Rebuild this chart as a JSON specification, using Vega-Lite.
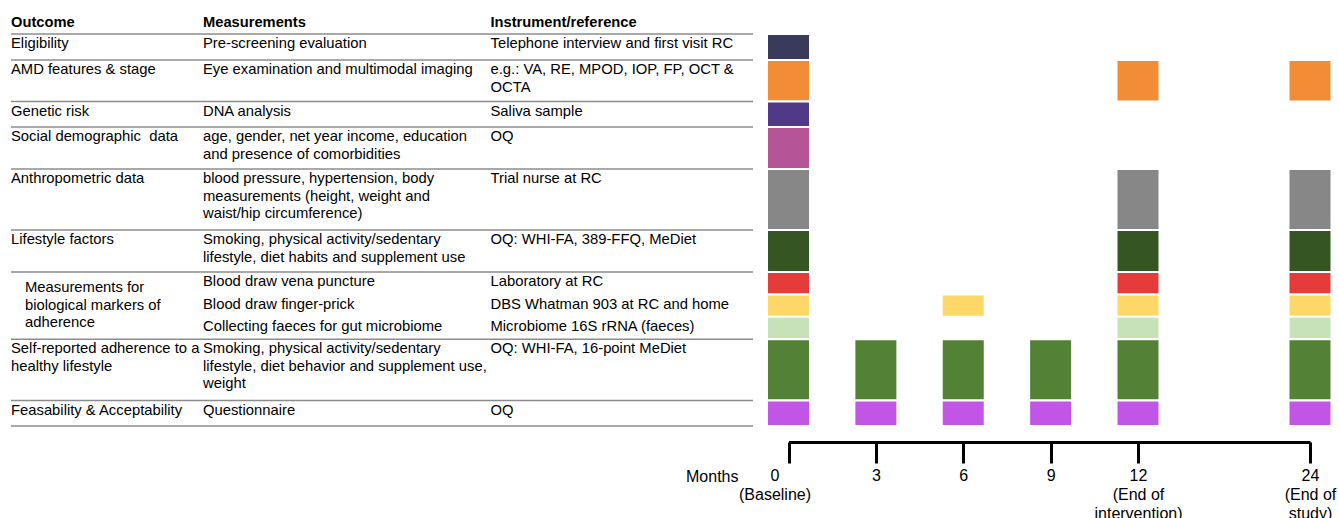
{
  "$schema": "https://vega.github.io/schema/vega-lite/v6.json",
  "width": 1339,
  "height": 518,
  "autosize": {"type": "none"},
  "padding": 0,
  "background": "white",
  "config": {"view": {"stroke": null}, "font": "Liberation Sans"},
  "datasets": {
    "cells": [
      {"row": -1, "col": 0, "text": "Outcome"},
      {"row": -1, "col": 1, "text": "Measurements"},
      {"row": -1, "col": 2, "text": "Instrument/reference"},
      {"row": 0, "col": 0, "text": "Eligibility"},
      {"row": 0, "col": 1, "text": "Pre-screening evaluation"},
      {"row": 0, "col": 2, "text": "Telephone interview and first visit RC"},
      {"row": 1, "col": 0, "text": "AMD features & stage"},
      {"row": 1, "col": 1, "text": "Eye examination and multimodal imaging"},
      {"row": 1, "col": 2, "text": "e.g.: VA, RE, MPOD, IOP, FP, OCT &\nOCTA"},
      {"row": 2, "col": 0, "text": "Genetic risk"},
      {"row": 2, "col": 1, "text": "DNA analysis"},
      {"row": 2, "col": 2, "text": "Saliva sample"},
      {"row": 3, "col": 0, "text": "Social demographic\u00a0 data"},
      {"row": 3, "col": 1, "text": "age, gender, net year income, education\nand presence of comorbidities"},
      {"row": 3, "col": 2, "text": "OQ"},
      {"row": 4, "col": 0, "text": "Anthropometric data"},
      {"row": 4, "col": 1, "text": "blood pressure, hypertension, body\nmeasurements (height, weight and\nwaist/hip circumference)"},
      {"row": 4, "col": 2, "text": "Trial nurse at RC"},
      {"row": 5, "col": 0, "text": "Lifestyle factors"},
      {"row": 5, "col": 1, "text": "Smoking, physical activity/sedentary\nlifestyle, diet habits and supplement use"},
      {"row": 5, "col": 2, "text": "OQ: WHI-FA, 389-FFQ, MeDiet"},
      {"row": 6, "col": 0, "span": 3, "text": "Measurements for\nbiological markers of\nadherence"},
      {"row": 6, "col": 1, "text": "Blood draw vena puncture"},
      {"row": 6, "col": 2, "text": "Laboratory at RC"},
      {"row": 7, "col": 1, "text": "Blood draw finger-prick"},
      {"row": 7, "col": 2, "text": "DBS Whatman 903 at RC and home"},
      {"row": 8, "col": 1, "text": "Collecting faeces for gut microbiome"},
      {"row": 8, "col": 2, "text": "Microbiome 16S rRNA (faeces)"},
      {"row": 9, "col": 0, "text": "Self-reported adherence to a\nhealthy lifestyle"},
      {"row": 9, "col": 1, "text": "Smoking, physical activity/sedentary\nlifestyle, diet behavior and supplement use,\nweight"},
      {"row": 9, "col": 2, "text": "OQ: WHI-FA, 16-point MeDiet"},
      {"row": 10, "col": 0, "text": "Feasability & Acceptability"},
      {"row": 10, "col": 1, "text": "Questionnaire"},
      {"row": 10, "col": 2, "text": "OQ"}
    ],
    "rules": [
      {"row": 0}, {"row": 1}, {"row": 2}, {"row": 3}, {"row": 4},
      {"row": 5}, {"row": 6}, {"row": 9}, {"row": 10}, {"row": 11}
    ],
    "items": [
      {"item": "Eligibility", "top": 0, "bottom": 1},
      {"item": "AMD features & stage", "top": 1, "bottom": 2},
      {"item": "Genetic risk", "top": 2, "bottom": 3},
      {"item": "Social demographic data", "top": 3, "bottom": 4},
      {"item": "Anthropometric data", "top": 4, "bottom": 5},
      {"item": "Lifestyle factors", "top": 5, "bottom": 6},
      {"item": "Blood draw vena puncture", "top": 6, "bottom": 7},
      {"item": "Blood draw finger-prick", "top": 7, "bottom": 8},
      {"item": "Collecting faeces for gut microbiome", "top": 8, "bottom": 9},
      {"item": "Self-reported adherence", "top": 9, "bottom": 10},
      {"item": "Feasability & Acceptability", "top": 10, "bottom": 11}
    ],
    "schedule": [
      {"item": "Eligibility", "month": 0},
      {"item": "AMD features & stage", "month": 0},
      {"item": "AMD features & stage", "month": 12},
      {"item": "AMD features & stage", "month": 24},
      {"item": "Genetic risk", "month": 0},
      {"item": "Social demographic data", "month": 0},
      {"item": "Anthropometric data", "month": 0},
      {"item": "Anthropometric data", "month": 12},
      {"item": "Anthropometric data", "month": 24},
      {"item": "Lifestyle factors", "month": 0},
      {"item": "Lifestyle factors", "month": 12},
      {"item": "Lifestyle factors", "month": 24},
      {"item": "Blood draw vena puncture", "month": 0},
      {"item": "Blood draw vena puncture", "month": 12},
      {"item": "Blood draw vena puncture", "month": 24},
      {"item": "Blood draw finger-prick", "month": 0},
      {"item": "Blood draw finger-prick", "month": 6},
      {"item": "Blood draw finger-prick", "month": 12},
      {"item": "Blood draw finger-prick", "month": 24},
      {"item": "Collecting faeces for gut microbiome", "month": 0},
      {"item": "Collecting faeces for gut microbiome", "month": 12},
      {"item": "Collecting faeces for gut microbiome", "month": 24},
      {"item": "Self-reported adherence", "month": 0},
      {"item": "Self-reported adherence", "month": 3},
      {"item": "Self-reported adherence", "month": 6},
      {"item": "Self-reported adherence", "month": 9},
      {"item": "Self-reported adherence", "month": 12},
      {"item": "Self-reported adherence", "month": 24},
      {"item": "Feasability & Acceptability", "month": 0},
      {"item": "Feasability & Acceptability", "month": 3},
      {"item": "Feasability & Acceptability", "month": 6},
      {"item": "Feasability & Acceptability", "month": 9},
      {"item": "Feasability & Acceptability", "month": 12},
      {"item": "Feasability & Acceptability", "month": 24}
    ]
  },
  "layer": [
    {
      "data": {"name": "rules"},
      "mark": {"type": "rule", "stroke": "#8c8c8c", "strokeWidth": 1.5},
      "encoding": {
        "x": {"datum": 0, "type": "quantitative", "scale": {"type": "linear", "domain": [0, 1, 2, 3], "range": [11, 203, 490.5, 753], "nice": false, "zero": false, "padding": 0}, "axis": null},
        "x2": {"datum": 3},
        "y": {"field": "row", "type": "quantitative", "scale": {"type": "linear", "domain": [-1, 0, 1, 2, 3, 4, 5, 6, 7, 8, 9, 10, 11], "range": [12.5, 34, 60, 101.5, 127, 169, 230, 272, 294.5, 316.7, 339.3, 400.5, 426], "nice": false, "zero": false, "padding": 0}, "axis": null}
      }
    },
    {
      "data": {"name": "cells"},
      "transform": [{"filter": "datum.row < 0"}],
      "mark": {"type": "text", "align": "left", "baseline": "alphabetic", "dy": 14, "fontSize": 14.7, "fontWeight": "bold", "font": "Liberation Sans", "fill": "black"},
      "encoding": {
        "x": {"field": "col", "type": "quantitative", "scale": {"type": "linear", "domain": [0, 1, 2, 3], "range": [11, 203, 490.5, 753], "nice": false, "zero": false, "padding": 0}, "axis": null},
        "y": {"field": "row", "type": "quantitative", "scale": {"type": "linear", "domain": [-1, 0, 1, 2, 3, 4, 5, 6, 7, 8, 9, 10, 11], "range": [12.5, 34, 60, 101.5, 127, 169, 230, 272, 294.5, 316.7, 339.3, 400.5, 426], "nice": false, "zero": false, "padding": 0}, "axis": null},
        "text": {"field": "text", "type": "nominal"}
      }
    },
    {
      "data": {"name": "cells"},
      "transform": [{"filter": "datum.row >= 0 && datum.span != 3"}],
      "mark": {"type": "text", "align": "left", "baseline": "alphabetic", "dy": 14, "fontSize": 14.8, "lineHeight": 17.5, "lineBreak": "\n", "font": "Liberation Sans", "fill": "black"},
      "encoding": {
        "x": {"field": "col", "type": "quantitative", "scale": {"type": "linear", "domain": [0, 1, 2, 3], "range": [11, 203, 490.5, 753], "nice": false, "zero": false, "padding": 0}, "axis": null},
        "y": {"field": "row", "type": "quantitative", "scale": {"type": "linear", "domain": [-1, 0, 1, 2, 3, 4, 5, 6, 7, 8, 9, 10, 11], "range": [12.5, 34, 60, 101.5, 127, 169, 230, 272, 294.5, 316.7, 339.3, 400.5, 426], "nice": false, "zero": false, "padding": 0}, "axis": null},
        "text": {"field": "text", "type": "nominal"}
      }
    },
    {
      "data": {"name": "cells"},
      "transform": [{"filter": "datum.span == 3"}],
      "mark": {"type": "text", "align": "left", "baseline": "alphabetic", "dx": 14, "dy": 20, "fontSize": 14.8, "lineHeight": 17.5, "lineBreak": "\n", "font": "Liberation Sans", "fill": "black"},
      "encoding": {
        "x": {"field": "col", "type": "quantitative", "scale": {"type": "linear", "domain": [0, 1, 2, 3], "range": [11, 203, 490.5, 753], "nice": false, "zero": false, "padding": 0}, "axis": null},
        "y": {"field": "row", "type": "quantitative", "scale": {"type": "linear", "domain": [-1, 0, 1, 2, 3, 4, 5, 6, 7, 8, 9, 10, 11], "range": [12.5, 34, 60, 101.5, 127, 169, 230, 272, 294.5, 316.7, 339.3, 400.5, 426], "nice": false, "zero": false, "padding": 0}, "axis": null},
        "text": {"field": "text", "type": "nominal"}
      }
    },
    {
      "data": {"name": "schedule"},
      "transform": [
        {"lookup": "item", "from": {"data": {"name": "items"}, "key": "item", "fields": ["top", "bottom"]}}
      ],
      "mark": {"type": "bar", "width": 43, "stroke": "white", "strokeWidth": 2},
      "encoding": {
        "x": {
          "field": "month",
          "type": "quantitative",
          "scale": {"type": "linear", "domain": [0, 12, 24], "range": [788.5, 1138, 1310], "nice": false, "zero": false, "padding": 0},
          "axis": {
            "orient": "bottom",
            "offset": -76,
            "values": [0, 3, 6, 9, 12, 24],
            "grid": false,
            "domainColor": "black",
            "domainWidth": 3,
            "tickColor": "black",
            "tickWidth": 3,
            "tickSize": 21,
            "labelFont": "Liberation Sans",
            "labelFontSize": 16,
            "labelColor": "black",
            "labelPadding": 4,
            "labelLineHeight": 19,
            "labelBaseline": "top",
            "labelOverlap": false,
            "labelFlush": false,
            "labelOffset": {"condition": {"test": "datum.value == 0", "value": -14}, "value": 0},
            "labelExpr": "datum.value == 0 ? ['0', '(Baseline)'] : datum.value == 12 ? ['12', '(End of', 'intervention)'] : datum.value == 24 ? ['24', '(End of', 'study)'] : datum.label",
            "title": "Months",
            "titleFont": "Liberation Sans",
            "titleFontSize": 16,
            "titleFontWeight": "normal",
            "titleColor": "black",
            "titleX": 738,
            "titleY": 39,
            "titleAlign": "right",
            "titleBaseline": "alphabetic",
            "titleAngle": 0
          }
        },
        "y": {"field": "top", "type": "quantitative", "scale": {"type": "linear", "domain": [-1, 0, 1, 2, 3, 4, 5, 6, 7, 8, 9, 10, 11], "range": [12.5, 34, 60, 101.5, 127, 169, 230, 272, 294.5, 316.7, 339.3, 400.5, 426], "nice": false, "zero": false, "padding": 0}, "axis": null},
        "y2": {"field": "bottom"},
        "color": {
          "field": "item",
          "type": "nominal",
          "scale": {
            "domain": ["Eligibility", "AMD features & stage", "Genetic risk", "Social demographic data", "Anthropometric data", "Lifestyle factors", "Blood draw vena puncture", "Blood draw finger-prick", "Collecting faeces for gut microbiome", "Self-reported adherence", "Feasability & Acceptability"],
            "range": ["#383b5b", "#f38c36", "#503a87", "#b55597", "#878787", "#355622", "#e53b3b", "#fdd866", "#c7e1b8", "#538135", "#c156e6"]
          },
          "legend": null
        }
      }
    }
  ],
  "resolve": {"scale": {"x": "independent"}}
}
